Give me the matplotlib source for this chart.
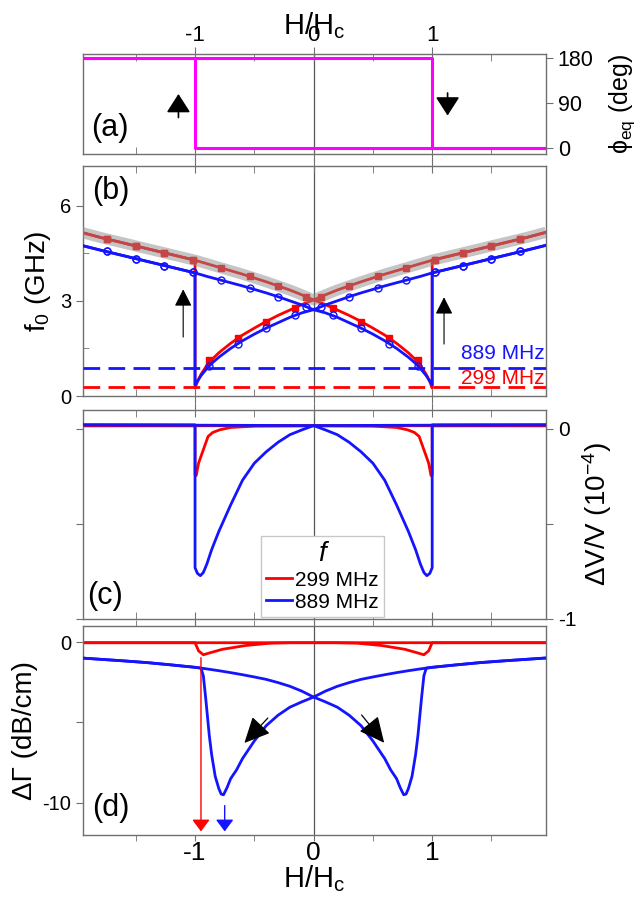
import matplotlib.pyplot as plt
import numpy as np
from matplotlib.ticker import FixedLocator, FixedFormatter

plt.rcParams['font.family'] = ['Liberation Sans', 'DejaVu Sans']
plt.rcParams['mathtext.fontset'] = 'custom'
plt.rcParams['mathtext.rm'] = 'Liberation Sans'
plt.rcParams['mathtext.it'] = 'Liberation Sans:italic'
plt.rcParams['axes.unicode_minus'] = False

BLUE = '#1414ff'
RED = '#ff0000'
MAG = '#ff00ff'
FRAME = '#707070'

# ---- (a) equilibrium angle, sweep from negative to positive field
h_phi = np.array([-1.945, 1.0, 1.0, 1.96])
phi_up = np.array([180, 180, 0, 0])

# ---- (b) resonance frequency (GHz) vs |H|/Hc
# aligned branch (model line)
h_al = np.array([0, 0.1, 0.2, 0.3, 0.4, 0.5, 0.6, 0.7, 0.8, 0.9, 1.0, 1.2, 1.4, 1.6, 1.8, 1.96])
f_al_889 = np.array([2.72, 2.87, 3.00, 3.13, 3.25, 3.36, 3.47, 3.57, 3.67, 3.77, 3.88, 4.06, 4.24, 4.42, 4.60, 4.75])
f_al_299 = np.array([3.03, 3.19, 3.34, 3.47, 3.60, 3.72, 3.84, 3.95, 4.06, 4.17, 4.28, 4.46, 4.64, 4.82, 5.00, 5.16])
# anti-aligned branch (model line), ends at switching field
h_anti = np.array([0, 0.1, 0.2, 0.3, 0.4, 0.5, 0.6, 0.7, 0.8, 0.85, 0.9, 0.95, 0.98, 1.0])
f_anti_889 = np.array([2.72, 2.62, 2.48, 2.31, 2.14, 1.95, 1.74, 1.50, 1.22, 1.06, 0.87, 0.64, 0.47, 0.35])
f_anti_299 = np.array([3.03, 2.88, 2.71, 2.54, 2.35, 2.14, 1.92, 1.66, 1.36, 1.18, 0.97, 0.68, 0.45, 0.25])
# symbols
h_dot_al = np.array([0.06, 0.30, 0.54, 0.78, 1.02, 1.26, 1.50, 1.74])
fd_al_889 = np.array([2.81, 3.13, 3.40, 3.65, 3.90, 4.11, 4.33, 4.56])
fd_al_299 = np.array([3.13, 3.47, 3.77, 4.04, 4.30, 4.51, 4.73, 4.95])
h_dot_anti = np.array([0.16, 0.40, 0.64, 0.88])
fd_anti_889 = np.array([2.54, 2.14, 1.65, 0.95])
fd_anti_299 = np.array([2.78, 2.34, 1.83, 1.14])
f_saw = [0.889, 0.299]

# ---- (c) dV/V (1e-4), dip on the anti-aligned side
dv_base_889 = 0.022
dv_base_299 = 0.017
h_dv889 = np.array([0, 0.1, 0.2, 0.3, 0.4, 0.5, 0.6, 0.7, 0.8, 0.86, 0.9, 0.93, 0.955, 0.98, 1.0])
dv_889 = np.array([0.018, -0.005, -0.03, -0.07, -0.12, -0.18, -0.27, -0.40, -0.54, -0.635, -0.71, -0.755, -0.772, -0.76, -0.73])
h_dv299 = np.array([0, 0.5, 0.7, 0.79, 0.85, 0.89, 0.93, 0.97, 0.99, 1.0])
dv_299 = np.array([0.017, 0.015, 0.008, -0.004, -0.018, -0.039, -0.109, -0.179, -0.245, -0.24])

# ---- (d) dGamma (dB/cm)
h_dg_al = np.array([0, 0.1, 0.2, 0.3, 0.4, 0.5, 0.6, 0.7, 0.8, 0.9, 1.0, 1.2, 1.4, 1.6, 1.8, 1.96])
dg_al_889 = np.array([-3.42, -3.05, -2.75, -2.52, -2.32, -2.17, -2.03, -1.90, -1.78, -1.67, -1.57, -1.42, -1.28, -1.17, -1.07, -0.99])
h_dg_anti = np.array([0, 0.1, 0.2, 0.3, 0.4, 0.5, 0.6, 0.65, 0.7, 0.73, 0.76, 0.78, 0.80, 0.83, 0.86, 0.88, 0.91, 0.93, 0.95])
dg_anti_889 = np.array([-3.42, -3.72, -4.05, -4.55, -5.2, -6.15, -7.25, -7.95, -8.5, -9.05, -9.5, -9.45, -9.1, -8.35, -7.0, -5.8, -3.5, -2.1, -1.62])
dg_base_299 = -0.04
h_dg299 = np.array([0, 0.2, 0.37, 0.57, 0.77, 0.88, 0.93, 0.97, 1.0])
dg_299 = np.array([-0.04, -0.04, -0.07, -0.21, -0.45, -0.68, -0.79, -0.55, -0.04])


def style(ax):
    ax.set_xlim(-1.945, 1.96)
    for s in ax.spines.values():
        s.set_color(FRAME)
        s.set_linewidth(1.0)
    ax.xaxis.set_major_locator(FixedLocator([-1, 0, 1]))
    ax.xaxis.set_minor_locator(FixedLocator([-1.5, -0.5, 0.5, 1.5]))
    ax.tick_params(axis='x', which='major', direction='inout', length=10, color=FRAME,
                   top=True, bottom=True, labelbottom=False)
    ax.tick_params(axis='x', which='minor', direction='in', length=5, color=FRAME,
                   top=True, bottom=True)
    ax.tick_params(axis='y', which='both', color=FRAME, labelsize=14.5)
    ax.axvline(0, color='#555555', lw=0.9, zorder=1)


fig = plt.figure(figsize=(6.4, 9.05), dpi=100)
L, W = 83 / 640, 463 / 640
ax_a = fig.add_axes([L, 1 - 154 / 905, W, 100 / 905])
ax_b = fig.add_axes([L, 1 - 396 / 905, W, 230 / 905])
ax_c = fig.add_axes([L, 1 - 619 / 905, W, 209 / 905])
ax_d = fig.add_axes([L, 1 - 835 / 905, W, 209 / 905])
for ax in (ax_a, ax_b, ax_c, ax_d):
    style(ax)

# ---------- (a)
ax_a.plot(h_phi, phi_up, color=MAG, lw=2.2, zorder=3)
ax_a.plot(-h_phi, 180 - phi_up, color=MAG, lw=2.2, zorder=3)
ax_a.set_ylim(-11, 188)
ax_a.yaxis.tick_right()
ax_a.yaxis.set_label_position('right')
ax_a.set_yticks([0, 90, 180])
ax_a.tick_params(axis='y', direction='out', length=5, left=False, labelsize=15.5)
ax_a.tick_params(axis='x', which='major', labeltop=True, labelsize=16, pad=1)
ax_a.xaxis.set_label_position('top')
ax_a.set_xlabel('H/H$_\\mathrm{c}$', fontsize=21, labelpad=-7)
ax_a.set_ylabel('ϕ$_\\mathrm{eq}$ (deg)', fontsize=18, labelpad=10)
ax_a.text(-1.72, 40, '(a)', fontsize=22, ha='center', va='center')
arr_a = dict(arrowstyle='-|>,head_length=0.5,head_width=0.32', color='black', lw=1.2, mutation_scale=23)
ax_a.annotate('', xy=(-1.14, 114), xytext=(-1.14, 56), arrowprops=arr_a)
ax_a.annotate('', xy=(1.13, 60), xytext=(1.13, 116), arrowprops=arr_a)


# ---------- (b)
def branch(h_a, y_a, h_n, y_n):
    keep = h_a >= 1.0
    x = np.concatenate([-h_a[::-1], h_n, h_a[keep]])
    y = np.concatenate([y_a[::-1], y_n, y_a[keep]])
    return x, y


for sgn in (1, -1):
    x, y = branch(h_al, f_al_299, h_anti, f_anti_299)
    ax_b.plot(sgn * x, y, color=RED, lw=2.0, zorder=2)
    xd = np.concatenate([-h_dot_al, h_dot_anti, h_dot_al[h_dot_al > 1]])
    yd = np.concatenate([fd_al_299, fd_anti_299, fd_al_299[h_dot_al > 1]])
    ax_b.plot(sgn * xd, yd, 's', color=RED, ms=5, zorder=2)
xg = np.concatenate([-h_al[::-1], h_al[1:]])
yg = np.concatenate([f_al_299[::-1], f_al_299[1:]])
ax_b.plot(xg, yg, color='#8c8c8c', alpha=0.5, lw=8, solid_capstyle='butt', zorder=3)
for sgn in (1, -1):
    x, y = branch(h_al, f_al_889, h_anti, f_anti_889)
    ax_b.plot(sgn * x, y, color=BLUE, lw=2.0, zorder=4)
    xd = np.concatenate([-h_dot_al, h_dot_anti, h_dot_al[h_dot_al > 1]])
    yd = np.concatenate([fd_al_889, fd_anti_889, fd_al_889[h_dot_al > 1]])
    ax_b.plot(sgn * xd, yd, 'o', mfc='none', mec=BLUE, mew=1.0, ms=5, zorder=4)
ax_b.axhline(f_saw[0], color=BLUE, lw=2.0, dashes=(6, 3), zorder=4)
ax_b.axhline(f_saw[1], color=RED, lw=2.0, dashes=(6, 3), zorder=4)
ax_b.text(1.95, 1.33, '889 MHz', color=BLUE, fontsize=15, ha='right', va='center')
ax_b.text(1.95, 0.55, '299 MHz', color=RED, fontsize=15, ha='right', va='center')
ax_b.set_ylim(0, 7.25)
ax_b.yaxis.set_major_locator(FixedLocator([0, 3, 6]))
ax_b.yaxis.set_minor_locator(FixedLocator([1.5, 4.5]))
ax_b.tick_params(axis='y', which='major', direction='out', length=5)
ax_b.tick_params(axis='y', which='minor', direction='in', length=4)
ax_b.set_ylabel('f$_0$ (GHz)', fontsize=20, labelpad=5)
ax_b.text(-1.71, 6.45, '(b)', fontsize=22, ha='center', va='center')
arr_b = dict(arrowstyle='-|>,head_length=0.55,head_width=0.28', color='black', lw=0.8, mutation_scale=19)
ax_b.annotate('', xy=(-1.10, 3.45), xytext=(-1.10, 1.77), arrowprops=arr_b)
ax_b.annotate('', xy=(1.10, 3.2), xytext=(1.10, 1.55), arrowprops=arr_b)

# ---------- (c)
for sgn in (1, -1):
    x = np.concatenate([[-1.96], h_dv299, [1.0, 1.96]])
    y = np.concatenate([[dv_base_299], dv_299, [dv_base_299, dv_base_299]])
    ax_c.plot(sgn * x, y, color=RED, lw=2.0, zorder=2, label='299 MHz' if sgn == 1 else None)
for sgn in (1, -1):
    x = np.concatenate([[-1.96], h_dv889, [1.0, 1.96]])
    y = np.concatenate([[dv_base_889], dv_889, [dv_base_889, dv_base_889]])
    ax_c.plot(sgn * x, y, color=BLUE, lw=2.0, zorder=3, label='889 MHz' if sgn == 1 else None)
ax_c.set_ylim(-1, 0.1)
ax_c.yaxis.tick_right()
ax_c.yaxis.set_label_position('right')
ax_c.yaxis.set_major_locator(FixedLocator([-1, -0.5, 0]))
ax_c.yaxis.set_major_formatter(FixedFormatter(['-1', '', '0']))
ax_c.tick_params(axis='y', direction='out', length=5, left=True, labelsize=15)
ax_c.set_ylabel('ΔV/V (10$^{-4}$)', fontsize=20, labelpad=3)
ax_c.text(-1.76, -0.88, '(c)', fontsize=22, ha='center', va='center')
leg = ax_c.legend(loc='lower left', bbox_to_anchor=(0.384, 0.01), borderaxespad=0, fontsize=15,
                  title='f', title_fontproperties={'style': 'italic', 'size': 20},
                  frameon=True, fancybox=False, edgecolor='#c8c8c8', framealpha=1,
                  handlelength=1.25, handletextpad=0.15, borderpad=0.25, labelspacing=0.15)
leg.set_zorder(5)

# ---------- (d)
for sgn in (1, -1):
    x = np.concatenate([[-1.96], h_dg299, [1.0, 1.96]])
    y = np.concatenate([[dg_base_299], dg_299, [dg_base_299, dg_base_299]])
    ax_d.plot(sgn * x, y, color=RED, lw=2.0, zorder=2)
for sgn in (1, -1):
    keep = h_dg_al >= 1.0
    x = np.concatenate([-h_dg_al[::-1], h_dg_anti[1:], h_dg_al[keep]])
    y = np.concatenate([dg_al_889[::-1], dg_anti_889[1:], dg_al_889[keep]])
    ax_d.plot(sgn * x, y, color=BLUE, lw=2.0, zorder=3)
ax_d.set_ylim(-12, 1)
ax_d.yaxis.set_major_locator(FixedLocator([-10, -5, 0]))
ax_d.yaxis.set_major_formatter(FixedFormatter(['-10', '', '0']))
ax_d.tick_params(axis='y', direction='out', length=5)
ax_d.tick_params(axis='x', which='both', bottom=True, direction='out', length=4)
ax_d.tick_params(axis='x', which='major', labelbottom=True, labelsize=19, pad=0)
ax_d.set_xlabel('H/H$_\\mathrm{c}$', fontsize=21, labelpad=-1)
ax_d.set_ylabel('ΔΓ (dB/cm)', fontsize=20, labelpad=3)
ax_d.text(-1.71, -10.3, '(d)', fontsize=22, ha='center', va='center')
arr_d = dict(arrowstyle='-|>,head_length=0.8,head_width=0.38', color='black', lw=0.9, mutation_scale=20)
ax_d.annotate('', xy=(-0.60, -6.4), xytext=(-0.37, -4.6), arrowprops=arr_d)
ax_d.annotate('', xy=(0.61, -6.4), xytext=(0.39, -4.4), arrowprops=arr_d)
ax_d.annotate('', xy=(-0.95, -11.95), xytext=(-0.95, -0.8),
              arrowprops=dict(arrowstyle='-|>,head_length=0.4,head_width=0.3', color=RED, lw=1.0, mutation_scale=18))
ax_d.annotate('', xy=(-0.75, -11.95), xytext=(-0.75, -10.0),
              arrowprops=dict(arrowstyle='-|>,head_length=0.4,head_width=0.3', color=BLUE, lw=1.0, mutation_scale=18))

fig.savefig('out.png', dpi=100)
